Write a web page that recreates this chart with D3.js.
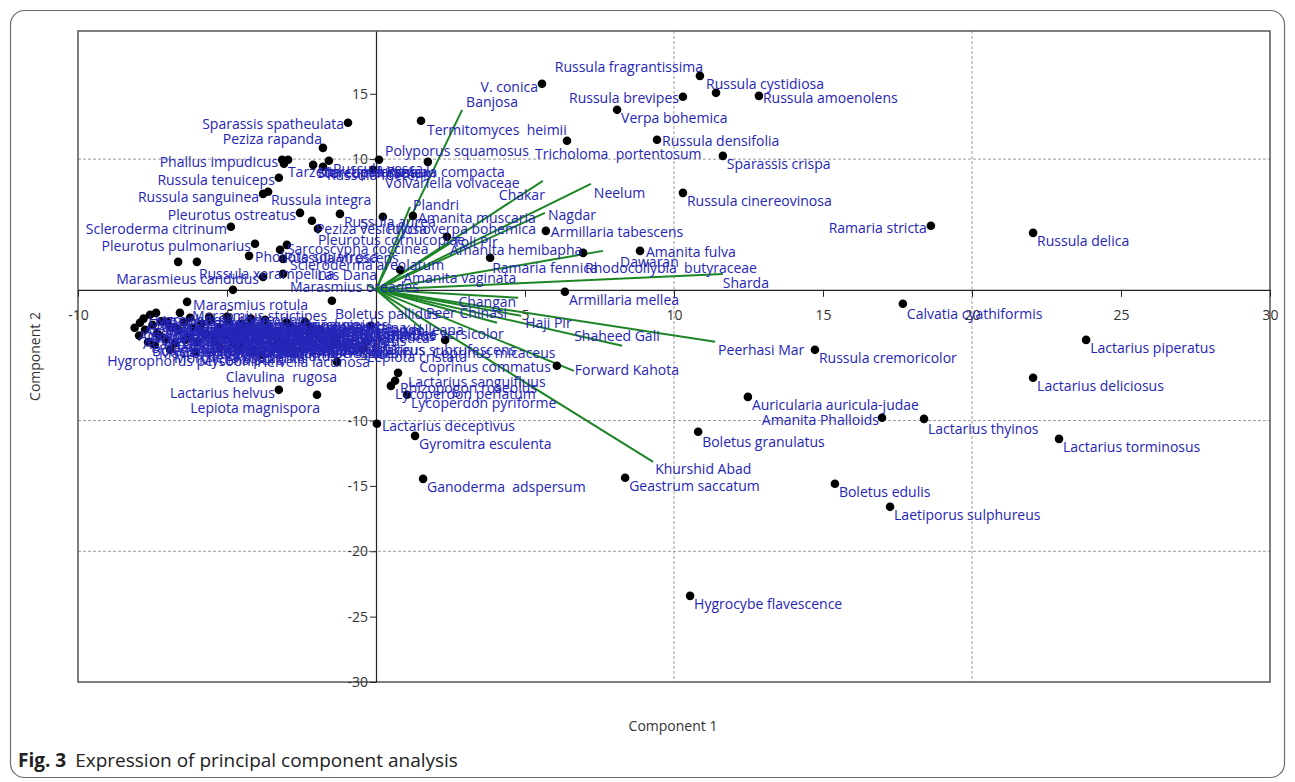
<!DOCTYPE html>
<html>
<head>
<meta charset="utf-8">
<script src="https://cdn.jsdelivr.net/npm/d3@7"></script>
<style>
  body { margin: 0; background: #fff; }
  svg text { font-family: "Open Sans", "Noto Sans", sans-serif; }
</style>
</head>
<body>
<svg id="chart" width="1295" height="782"></svg>
<script>
// PCA biplot: species scores (black points) and site loadings (green vectors)

const species = [
  "Russula fragrantissima", "Russula cystidiosa", "Russula amoenolens", "Russula brevipes",
  "Verpa bohemica", "V. conica", "Termitomyces  heimii", "Russula densifolia",
  "Tricholoma  portentosum", "Sparassis crispa", "Russula cinereovinosa", "Ramaria stricta",
  "Russula delica", "Amanita fulva", "Armillaria tabescens", "Armillaria mellea",
  "Calvatia cyathiformis", "Lactarius piperatus", "Russula cremoricolor", "Lactarius deliciosus",
  "Auricularia auricula-judae", "Amanita Phalloids", "Lactarius thyinos", "Boletus granulatus",
  "Lactarius torminosus", "Coprinus commatus", "Geastrum saccatum", "Ganoderma  adspersum",
  "Boletus edulis", "Laetiporus sulphureus", "Hygrocybe flavescence", "Lactarius deceptivus",
  "Gyromitra esculenta", "Lactarius sanguifluus", "Rhizopogon roseolus", "Lycoperdon perlatum",
  "Lycoperdon pyriforme", "Coprinus micaceus", "Agaricus subrufescens", "Lepiota cristata",
  "Amanita muscaria", "Rhodocollybia  butyraceae", "Amanita hemibapha", "Ptychoverpa bohemica",
  "Ramaria fennica", "Amanita vaginata", "Polyporus squamosus", "Russula compacta",
  "Volvariella volvaceae", "Sparassis spatheulata", "Peziza rapanda", "Phallus impudicus",
  "Morchella conica", "Russula tenuiceps", "Russula sanguinea", "Russula integra",
  "Pleurotus ostreatus", "Scleroderma citrinum", "Pleurotus pulmonarius", "Marasmieus candidus",
  "Tarzetta cupularis", "Stereum hirsutum", "Russula vesca", "Russula foetens",
  "Peziza vesiculosa", "Russula aurea", "Pleurotus cornucopiae", "Sarcoscypha coccinea",
  "Russula virescens", "Scleroderma areolatum", "Pholiota squarrosa", "Russula xerampelina",
  "Hygrophorus chrysodon", "Marasmius oreades", "Lepista sordida", "Marasmius rotula",
  "Marasmius strictipes", "Boletus pallidus", "Hygrophorus persoonii", "Helvella lacunosa",
  "Clavulina  rugosa", "Lactarius helvus", "Lepiota magnispora",
  // low-loading group near the origin
  "Agaricus campestris", "Agaricus arvensis", "Agaricus silvicola", "Amanita pantherina",
  "Amanita citrina", "Amanita rubescens", "Cantharellus cibarius", "Clitocybe nebularis",
  "Coprinopsis atramentaria", "Cortinarius violaceus", "Craterellus cornucopioides", "Flammulina velutipes",
  "Hydnum repandum", "Hygrophorus eburneus", "Hypholoma fasciculare", "Inocybe geophylla",
  "Laccaria laccata", "Laccaria amethystina", "Lactarius volemus", "Leccinum scabrum",
  "Lentinus tigrinus", "Lepista nuda", "Macrolepiota procera", "Morchella esculenta",
  "Mycena pura", "Paxillus involutus", "Psathyrella candolleana", "Russula emetica",
  "Suillus luteus", "Trametes versicolor",
  "Agaricus bitorquis", "Agaricus augustus", "Amanita caesarea", "Boletus subtomentosus",
  "Calocera viscosa", "Clitocybe odora", "Collybia dryophila", "Daedalea quercina",
  "Entoloma clypeatum", "Ganoderma lucidum", "Hebeloma crustuliniforme", "Helvella crispa",
  "Hygrocybe conica", "Hygrophorus russula", "Lactarius deterrimus", "Lactarius vellereus",
  "Lentinus squarrosulus", "Lepiota clypeolaria", "Lycoperdon umbrinum", "Marasmius siccus",
  "Mycena galericulata", "Omphalotus olearius", "Panaeolus semiovatus", "Pluteus cervinus",
  "Polyporus arcularius", "Ramaria botrytis", "Russula atropurpurea", "Russula cyanoxantha",
  "Russula nigricans", "Schizophyllum commune", "Suillus granulatus", "Tricholoma terreum",
  "Tylopilus felleus", "Xerocomus badius"
];

// Component 1 scores
const pc1 = [
  10.87, 11.41, 12.85, 10.30,
  8.09, 5.57, 1.51, 9.43,
  6.41, 11.64, 10.30, 18.62,
  22.05, 8.86, 5.70, 6.34,
  17.68, 23.83, 14.73, 22.05,
  12.48, 16.98, 18.39, 10.81,
  22.92, 6.07, 8.36, 1.58,
  15.40, 17.25, 10.54, 0.03,
  1.31, 0.74, 0.64, 0.50,
  1.04, 2.32, -0.34, -0.44,
  1.24, 6.95, 2.38, 0.23,
  3.83, 0.81, 0.10, 1.74,
  -0.10, -0.94, -1.78, -3.15,
  -2.95, -3.26, -3.79, -3.62,
  -2.55, -4.87, -4.06, -3.79,
  -3.09, -2.11, -1.58, -1.78,
  -2.15, -1.21, -1.95, -2.99,
  -3.22, -3.12, -4.26, -6.01,
  -6.64, -3.12, -4.80, -6.34,
  -6.58, -1.48, -3.83, -4.13,
  -1.31, -3.26, -1.98,
  -7.92, -7.58, -7.38, -7.01,
  -7.75, -7.25, -6.74, -6.24,
  -6.41, -5.91, -5.60, -5.40,
  -5.00, -4.83, -4.56, -4.23,
  -3.96, -3.72, -3.39, -3.05,
  -2.89, -2.55, -7.42, -6.91,
  -6.07, -5.23, -2.38, -1.88,
  -1.38, -0.17,
  -8.10, -7.95, -7.80, -7.65,
  -7.50, -7.35, -7.20, -7.05,
  -6.90, -6.75, -6.60, -6.45,
  -6.30, -6.15, -6.00, -5.85,
  -5.70, -5.55, -5.40, -5.25,
  -5.10, -4.95, -4.80, -4.65,
  -4.50, -4.40, -4.30, -4.20,
  -3.90, -3.60, -3.30, -3.00,
  -2.60, -2.20
];

// Component 2 scores
const pc2 = [
  16.37, 15.07, 14.84, 14.77,
  13.77, 15.76, 12.93, 11.48,
  11.40, 10.25, 7.42, 4.90,
  4.36, 2.98, 4.51, -0.15,
  -1.07, -3.83, -4.59, -6.73,
  -8.19, -9.79, -9.87, -10.86,
  -11.40, -5.81, -14.38, -14.46,
  -14.84, -16.60, -23.41, -10.25,
  -11.17, -6.35, -6.96, -7.35,
  -8.03, -3.83, -3.98, -4.51,
  5.66, 2.83, 4.06, 5.59,
  2.45, 1.53, 9.95, 9.79,
  9.18, 12.78, 10.86, 9.95,
  9.95, 8.57, 7.34, 7.50,
  5.89, 4.82, 3.52, 0.99,
  9.64, 9.56, 9.87, 9.41,
  5.28, 5.81, 4.67, 3.44,
  3.06, 2.37, 2.60, 2.14,
  2.14, 1.22, 0.00, -0.92,
  -1.76, -0.84, -4.97, -4.74,
  -5.51, -7.65, -8.03,
  -2.52, -1.91, -1.76, -2.45,
  -3.06, -3.52, -2.91, -2.14,
  -3.83, -3.06, -2.07, -3.98,
  -2.07, -3.21, -4.21, -2.68,
  -3.67, -2.30, -3.29, -4.21,
  -2.75, -3.67, -4.21, -4.59,
  -4.74, -4.44, -2.45, -3.06,
  -3.98, -2.75,
  -2.90, -3.50, -2.20, -4.00,
  -2.70, -3.30, -2.40, -3.80,
  -2.80, -4.10, -3.10, -2.50,
  -3.60, -2.90, -4.00, -2.60,
  -3.40, -2.30, -3.80, -2.90,
  -3.50, -2.40, -4.00, -3.10,
  -2.60, -3.70, -3.00, -2.20,
  -3.40, -2.80, -3.90, -2.50,
  -3.30, -2.90
];

// Site loadings
const sites = [
  "Banjosa", "Plandri", "Chakar", "Neelum", "Nagdar", "Toli Pir", "Dawaran", "Sharda",
  "Changan", "Peer Chinasi", "Haji Pir", "Shaheed Gali", "Peerhasi Mar", "Forward Kahota",
  "Khurshid Abad", "Kel", "Las Dana"
];
const siteX = [2.89, 1.14, 5.60, 7.21, 5.67, 2.52, 7.62, 11.64, 4.77, 4.06, 4.87, 8.26, 11.38, 6.64, 9.30, 1.58, -0.30];
const siteY = [13.77, 6.35, 8.34, 8.11, 5.89, 3.60, 2.98, 1.22, -0.61, -2.52, -1.99, -4.28, -3.98, -6.20, -13.16, -3.06, 0.40];

const xTicks = [-10, -5, 5, 10, 15, 20, 25, 30];
const yTicks = [15, 10, 5, -5, -10, -15, -20, -25, -30];
const xGrid = [10, 20];
const yGrid = [10, -10, -20];

// Label placement relative to each mark: [dx, dy, anchor]
const speciesLabelDefault = [4, 8, "start"];
const leftLabel = [-4, 2, "end"];
const speciesLabelPlace = {
  "Russula fragrantissima": [3, -9, "end"],
  "Russula cystidiosa": [-10, -9, "start"],
  "Russula amoenolens": [4, 2, "start"],
  "Russula brevipes": [-4, 1, "end"],
  "V. conica": [-4, 3, "end"],
  "Termitomyces  heimii": [6, 9, "start"],
  "Russula densifolia": [5, 1, "start"],
  "Tricholoma  portentosum": [-32, 13, "start"],
  "Ramaria stricta": [-4, 2, "end"],
  "Amanita fulva": [6, 1, "start"],
  "Armillaria tabescens": [5, 1, "start"],
  "Calvatia cyathiformis": [4, 10, "start"],
  "Amanita Phalloids": [-3, 2, "end"],
  "Lactarius thyinos": [4, 10, "start"],
  "Boletus granulatus": [4, 10, "start"],
  "Coprinus commatus": [-6, 1, "end"],
  "Lactarius deceptivus": [5, 2, "start"],
  "Lactarius sanguifluus": [10, 9, "start"],
  "Rhizopogon roseolus": [5, 7, "start"],
  "Coprinus micaceus": [-13, 13, "start"],
  "Amanita muscaria": [5, 2, "start"],
  "Rhodocollybia  butyraceae": [2, 15, "start"],
  "Amanita hemibapha": [3, 13, "start"],
  "Ptychoverpa bohemica": [4, 12, "start"],
  "Ramaria fennica": [2, 10, "start"],
  "Amanita vaginata": [3, 8, "start"],
  "Polyporus squamosus": [6, -9, "start"],
  "Russula compacta": [-41, 10, "start"],
  "Volvariella volvaceae": [12, 13, "start"],
  "Sparassis spatheulata": [-4, 1, "end"],
  "Peziza rapanda": [-1, -9, "end"],
  "Phallus impudicus": leftLabel,
  "Morchella conica": [30, 12, "start"],
  "Russula tenuiceps": leftLabel,
  "Russula sanguinea": [-4, 3, "end"],
  "Russula integra": [3, 8, "start"],
  "Pleurotus ostreatus": leftLabel,
  "Scleroderma citrinum": leftLabel,
  "Pleurotus pulmonarius": leftLabel,
  "Marasmieus candidus": leftLabel,
  "Pleurotus cornucopiae": [0, 11, "start"],
  "Sarcoscypha coccinea": [0, 4, "start"],
  "Scleroderma areolatum": [7, 6, "start"],
  "Pholiota squarrosa": [6, 1, "start"],
  "Russula xerampelina": [2, 12, "start"],
  "Hygrophorus chrysodon": [-30, 58, "start"],
  "Marasmius oreades": [7, 13, "start"],
  "Lepista sordida": [-60, 40, "start"],
  "Marasmius rotula": [6, 3, "start"],
  "Marasmius strictipes": [12, 3, "start"],
  "Boletus pallidus": [3, 13, "start"],
  "Hygrophorus persoonii": [-4, 6, "end"],
  "Helvella lacunosa": [4, 10, "start"],
  "Clavulina  rugosa": [0, 15, "end"],
  "Lactarius helvus": [-4, 3, "end"],
  "Lepiota magnispora": [3, 13, "end"]
};
const siteLabelDefault = [3, 0, "start"];
const siteLabelPlace = {
  "Banjosa": [4, -8, "start"],
  "Plandri": [3, -2, "start"],
  "Chakar": [2, 14, "end"],
  "Neelum": [3, 9, "start"],
  "Nagdar": [3, 2, "start"],
  "Toli Pir": [2, -1, "start"],
  "Dawaran": [17, 11, "start"],
  "Sharda": [0, 9, "start"],
  "Changan": [-2, 4, "end"],
  "Peer Chinasi": [10, -10, "end"],
  "Haji Pir": [4, 7, "start"],
  "Shaheed Gali": [-48, -10, "start"],
  "Peerhasi Mar": [3, 8, "start"],
  "Forward Kahota": [1, -1, "start"],
  "Khurshid Abad": [2, 7, "start"],
  "Kel": [-1, 0, "end"],
  "Las Dana": [10, -10, "end"]
};

const W = 1295, H = 782;
const plot = { left: 78, right: 1270, top: 31, bottom: 682 };
const labelBlue = "#2525b8";
const vectorGreen = "#1e8526";

const svg = d3.select("#chart");

// Outer figure panel
svg.append("rect")
  .attr("x", 10.5).attr("y", 10.5)
  .attr("width", W - 21).attr("height", H - 15)
  .attr("rx", 14).attr("ry", 14)
  .attr("fill", "none").attr("stroke", "#6b6b6b").attr("stroke-width", 1.2);

const x = d3.scaleLinear().domain([-10, 30]).range([plot.left, plot.right]);
const y = d3.scaleLinear().domain([-30, 19.8]).range([plot.bottom, plot.top]);

// Dashed grid
const grid = svg.append("g").attr("stroke", "#9a9a9a").attr("stroke-width", 1).attr("stroke-dasharray", "3,2");
grid.selectAll("line.gx").data(xGrid).join("line")
  .attr("x1", d => x(d)).attr("x2", d => x(d))
  .attr("y1", plot.top).attr("y2", plot.bottom);
grid.selectAll("line.gy").data(yGrid).join("line")
  .attr("x1", plot.left).attr("x2", plot.right)
  .attr("y1", d => y(d)).attr("y2", d => y(d));

// Plot frame
svg.append("rect")
  .attr("x", plot.left).attr("y", plot.top)
  .attr("width", plot.right - plot.left).attr("height", plot.bottom - plot.top)
  .attr("fill", "none").attr("stroke", "#555").attr("stroke-width", 1.5);

// Axes through the origin
const fmt = d => String(d);
const xAxis = svg.append("g")
  .attr("transform", `translate(0,${y(0)})`)
  .call(d3.axisBottom(x).tickValues(xTicks).tickSize(7).tickSizeOuter(0).tickPadding(13).tickFormat(fmt));
const yAxis = svg.append("g")
  .attr("transform", `translate(${x(0)},0)`)
  .call(d3.axisLeft(y).tickValues(yTicks).tickSize(6).tickSizeOuter(0).tickPadding(2).tickFormat(fmt));
[xAxis, yAxis].forEach(g => {
  g.select(".domain").attr("stroke", "#222").attr("stroke-width", 1.2);
  g.selectAll(".tick line").attr("stroke", "#222");
  g.selectAll(".tick text").attr("fill", "#333").attr("font-size", 14)
    .attr("font-family", "'Open Sans', 'Noto Sans', sans-serif");
});

// Site loading vectors
const sitesData = sites.map((s, i) => ({ name: s, x: siteX[i], y: siteY[i] }));
svg.append("g").selectAll("line").data(sitesData).join("line")
  .attr("x1", x(0)).attr("y1", y(0))
  .attr("x2", d => x(d.x)).attr("y2", d => y(d.y))
  .attr("stroke", vectorGreen).attr("stroke-width", 2);

// Species points
const speciesData = species.map((s, i) => ({ name: s, x: pc1[i], y: pc2[i] }));
svg.append("g").selectAll("circle").data(speciesData).join("circle")
  .attr("cx", d => x(d.x)).attr("cy", d => y(d.y))
  .attr("r", 4.3).attr("fill", "#000");

// Labels
function drawLabels(data, placeMap, def) {
  svg.append("g").selectAll("text").data(data).join("text")
    .each(function (d) {
      const p = placeMap[d.name] || def;
      d3.select(this)
        .attr("x", x(d.x) + p[0])
        .attr("y", y(d.y) + p[1])
        .attr("text-anchor", p[2]);
    })
    .attr("dominant-baseline", "central")
    .attr("font-size", 14)
    .attr("fill", labelBlue)
    .style("white-space", "pre")
    .text(d => d.name);
}
drawLabels(speciesData, speciesLabelPlace, speciesLabelDefault);
drawLabels(sitesData, siteLabelPlace, siteLabelDefault);

// Axis titles
svg.append("text")
  .attr("x", (plot.left + plot.right) / 2 - 1).attr("y", 731)
  .attr("text-anchor", "middle").attr("font-size", 14).attr("fill", "#333")
  .text("Component 1");
svg.append("text")
  .attr("transform", `translate(40,${(plot.top + plot.bottom) / 2}) rotate(-90)`)
  .attr("text-anchor", "middle").attr("font-size", 14).attr("fill", "#333")
  .text("Component 2");

// Caption
const cap = svg.append("text").attr("x", 18).attr("y", 767).attr("font-size", 19).attr("fill", "#222");
cap.append("tspan").attr("font-weight", "bold").text("Fig. 3");
cap.append("tspan").attr("dx", 9).text("Expression of principal component analysis");
</script>
</body>
</html>
